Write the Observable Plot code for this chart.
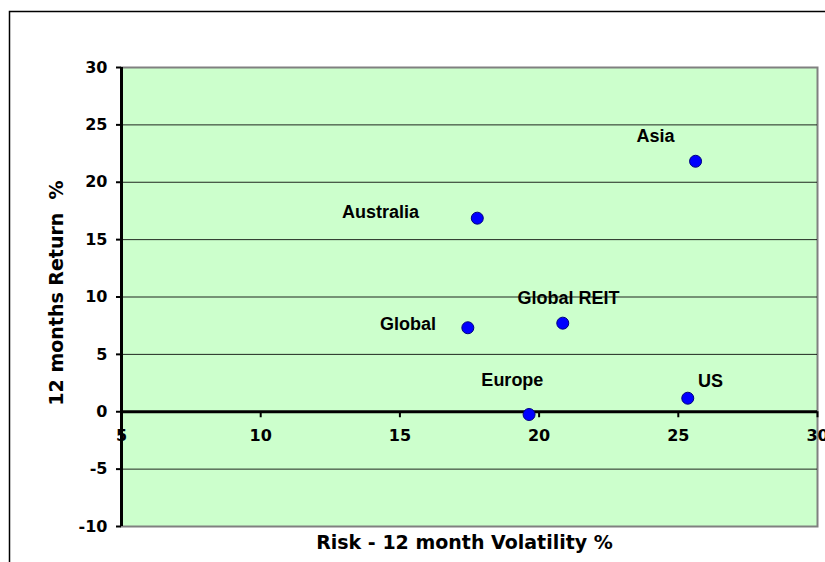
<!DOCTYPE html>
<html>
<head>
<meta charset="utf-8">
<script src="https://cdn.jsdelivr.net/npm/d3@7"></script>
<script src="https://cdn.jsdelivr.net/npm/@observablehq/plot@0.6"></script>
<style>
  html, body { margin: 0; padding: 0; background: #fff; overflow: hidden; }
  #chart { width: 825px; height: 562px; }
</style>
</head>
<body>
<div id="chart"></div>
<script>
// Regional property markets: 12-month risk vs. 12-month return
const regions = ["Asia", "Australia", "Global", "Global REIT", "Europe", "US"];
const volatility = [25.62, 17.78, 17.44, 20.85, 19.64, 25.34];
const returns = [21.83, 16.87, 7.32, 7.72, -0.24, 1.18];

// Where each data label sits, in chart units (volatility, return)
const labelVolatility = [24.18, 14.30, 15.29, 21.06, 19.04, 26.16];
const labelReturn = [24.0, 17.39, 7.66, 9.93, 2.78, 2.66];

const xTicks = [5, 10, 15, 20, 25, 30];
const yTicks = [-10, -5, 0, 5, 10, 15, 20, 25, 30];

const xTitle = "Risk - 12 month Volatility %";
const yTitle = "12 months Return  %";

const points = regions.map((name, i) => ({
  name, x: volatility[i], y: returns[i], lx: labelVolatility[i], ly: labelReturn[i]
}));

const labelFont = "'Liberation Sans', Arial, sans-serif";

const chart = Plot.plot({
  width: 825,
  height: 562,
  marginLeft: 121,
  marginRight: 8,
  marginTop: 67,
  marginBottom: 36,
  x: {domain: [5, 30], axis: null},
  y: {domain: [-10, 30]},
  style: {
    fontFamily: "'DejaVu Sans', Verdana, sans-serif",
    fontWeight: "bold",
    fontSize: "16px",
    color: "#000",
    background: "#fff",
    overflow: "visible"
  },
  marks: [
    Plot.frame({fill: "#ccffcc", stroke: "#808080", strokeWidth: 2}),
    Plot.gridY(yTicks.filter(v => v > -10 && v < 30 && v !== 0), {stroke: "#000", strokeOpacity: 0.85, strokeWidth: 1}),
    Plot.text(xTicks, {x: d => d, y: 0, dy: 24, text: d => String(d), fontSize: 16}),
    Plot.ruleX(xTicks.slice(1), {x: d => d, y1: 0, y2: 0, insetBottom: -6, stroke: "#000", strokeWidth: 2}),
    Plot.ruleY([0], {stroke: "#000", strokeWidth: 3}),
    Plot.ruleX([5], {stroke: "#000", strokeWidth: 3}),
    Plot.axisY({ticks: yTicks, tickSize: 5, tickPadding: 9, strokeWidth: 2, label: null, fontSize: 16, tickFormat: d => String(d)}),
    Plot.dot(points, {x: "x", y: "y", r: 6, fill: "#0000ff", stroke: "#000080", strokeWidth: 1}),
    Plot.text(points, {x: "lx", y: "ly", text: "name", fontFamily: labelFont, fontSize: 18, fontWeight: "bold", fill: "#000"}),
    Plot.text([xTitle], {frameAnchor: "bottom", textAnchor: "middle", dx: -5, dy: 22, fontSize: 19, fill: "#000"}),
    Plot.text([yTitle], {frameAnchor: "left", textAnchor: "middle", rotate: -90, dx: -65, dy: -4, fontSize: 19, fill: "#000"})
  ]
});

// Chart-area border around the whole figure
d3.select(chart).insert("rect", ":first-child")
  .attr("x", 9.5).attr("y", 11.5)
  .attr("width", 1000).attr("height", 1000)
  .attr("fill", "#fff").attr("stroke", "#000").attr("stroke-width", 1.5);

document.getElementById("chart").appendChild(chart);
</script>
</body>
</html>
